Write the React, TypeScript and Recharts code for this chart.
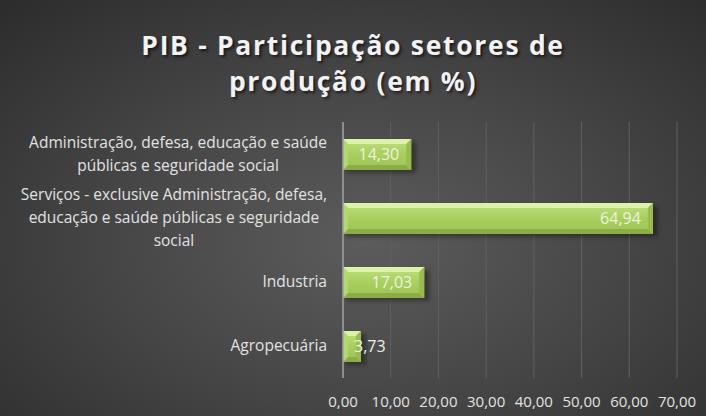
import { BarChart, Bar, XAxis, YAxis, CartesianGrid, LabelList } from "recharts";

const categories = [
  "Administração, defesa, educação e saúde públicas e seguridade social",
  "Serviços - exclusive Administração, defesa, educação e saúde públicas e seguridade social",
  "Industria",
  "Agropecuária",
];
const categoryLines = [
  ["Administração, defesa, educação e saúde", "públicas e seguridade social"],
  ["Serviços - exclusive Administração, defesa,", "educação e saúde públicas e seguridade", "social"],
  ["Industria"],
  ["Agropecuária"],
];
const values = [14.3, 64.94, 17.03, 3.73];
const xTicks = [0, 10, 20, 30, 40, 50, 60, 70];
const title = ["PIB - Participação setores de", "produção (em %)"];

const data = categories.map((name, i) => ({ name, value: values[i], lines: categoryLines[i] }));

const FONT = "Open Sans, sans-serif";
const LABEL_SIZE = 15.5;
const VALUE_SIZE = 16;
const fmt = (v: number) => v.toFixed(2).replace(".", ",");

let ctx: CanvasRenderingContext2D | null = null;
function measure(text: string, size: number) {
  if (!ctx) ctx = document.createElement("canvas").getContext("2d");
  if (!ctx) return text.length * size * 0.55;
  ctx.font = `${size}px ${FONT}`;
  return ctx.measureText(text).width;
}

function CategoryTick(props: any) {
  const { x, y, payload } = props;
  const lines: string[] = categoryLines[categories.indexOf(payload.value)] || [payload.value];
  const widths = lines.map((l) => measure(l, LABEL_SIZE));
  const blockW = Math.max(...widths);
  const right = x - 8;
  const center = right - blockW / 2;
  const lh = 23;
  const top = y - ((lines.length - 1) * lh) / 2;
  return (
    <g>
      {lines.map((l, i) => (
        <text key={i} x={center} y={top + i * lh} dy="0.35em" textAnchor="middle"
          fill="#e2e2e2" fontSize={LABEL_SIZE} fontFamily={FONT}>
          {l}
        </text>
      ))}
    </g>
  );
}

function BevelBar(props: any) {
  const { x, y, width, height } = props;
  if (!width || width <= 0) return null;
  const b = Math.min(5, width / 2);
  return (
    <g>
      <rect x={x + 3} y={y + 3} width={width + 2} height={height} fill="#000" opacity={0.35} filter="url(#soft)" />
      <rect x={x} y={y} width={width} height={height} fill="url(#barFill)" />
      <polygon points={`${x},${y} ${x + width},${y} ${x + width - b},${y + b} ${x + b},${y + b}`} fill="#dcf2a8" />
      <polygon points={`${x},${y + height} ${x + width},${y + height} ${x + width - b},${y + height - b} ${x + b},${y + height - b}`} fill="#8aae45" />
      <polygon points={`${x + width},${y} ${x + width},${y + height} ${x + width - b},${y + height - b} ${x + width - b},${y + b}`} fill="#97bd4f" />
      <polygon points={`${x},${y} ${x},${y + height} ${x + b},${y + height - b} ${x + b},${y + b}`} fill="#b4d870" />
    </g>
  );
}

function ValueLabel(props: any) {
  const { x, y, width, height, value } = props;
  const text = fmt(value);
  const tw = measure(text, VALUE_SIZE);
  const inside = width > tw + 16;
  const tx = inside ? x + width - 12 : x + 11;
  return (
    <text x={tx} y={y + height / 2} dy="0.35em" textAnchor={inside ? "end" : "start"}
      fill="#ecf2e0" fontSize={VALUE_SIZE} fontFamily={FONT}>
      {text}
    </text>
  );
}

export default function App() {
  return (
    <div
      style={{
        position: "absolute",
        left: 0,
        top: 0,
        width: 706,
        height: 416,
        background: "radial-gradient(ellipse 75% 80% at 52% 58%, #5c5c5c 0%, #454545 50%, #2c2c2c 100%)",
        overflow: "hidden",
      }}
    >
      <div
        style={{
          position: "absolute",
          left: 0,
          top: 27,
          width: 706,
          textAlign: "center",
          color: "#f2f2f2",
          fontFamily: FONT,
          fontWeight: 700,
          fontSize: 26.5,
          lineHeight: "36px",
          letterSpacing: 1.7,
          textShadow: "2px 2px 3px rgba(0,0,0,0.6)",
        }}
      >
        {title.map((t) => (
          <div key={t}>{t}</div>
        ))}
      </div>
      <BarChart
        width={706}
        height={416}
        data={data}
        layout="vertical"
        margin={{ top: 122, right: 29, bottom: 8, left: 0 }}
        barCategoryGap="50%"
        style={{ position: "absolute", left: 0, top: 0 }}
      >
        <defs>
          <linearGradient id="barFill" x1="0" y1="0" x2="0" y2="1">
            <stop offset="0%" stopColor="#bfe07e" />
            <stop offset="50%" stopColor="#a9cf5e" />
            <stop offset="100%" stopColor="#9cc352" />
          </linearGradient>
          <filter id="soft" x="-10%" y="-30%" width="120%" height="160%">
            <feGaussianBlur stdDeviation="2" />
          </filter>
        </defs>
        <CartesianGrid horizontal={false} stroke="#606060" strokeWidth={1} />
        <XAxis
          type="number"
          domain={[0, 70]}
          ticks={xTicks}
          tickFormatter={fmt}
          axisLine={false}
          tickLine={false}
          tickMargin={12}
          tick={{ fill: "#e2e2e2", fontSize: 15, fontFamily: FONT }}
        />
        <YAxis
          type="category"
          dataKey="name"
          width={343}
          axisLine={{ stroke: "#a0a0a0", strokeWidth: 1.5 }}
          tickLine={false}
          tick={<CategoryTick />}
          interval={0}
        />
        <Bar dataKey="value" barSize={31} shape={<BevelBar />} isAnimationActive={false}>
          <LabelList dataKey="value" content={<ValueLabel />} />
        </Bar>
      </BarChart>
    </div>
  );
}
